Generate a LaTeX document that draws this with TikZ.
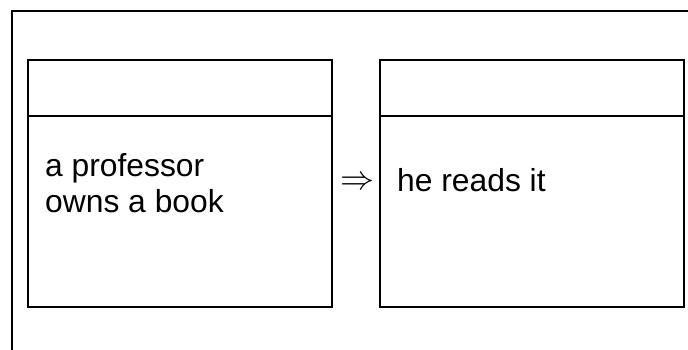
\documentclass[tikz,border=0pt]{standalone}
\usepackage{fontspec}
\setmainfont{Liberation Sans}
\begin{document}
\begin{tikzpicture}[x=1pt,y=-1pt,
  frameline/.style={line width=1.6pt, black},
  boxpart/.style={draw, line width=1.6pt, black},
  bodytext/.style={font=\fontsize{31.8}{36}\selectfont, align=left, inner sep=0pt, anchor=base west},
  implies/.style={scale=3.4, inner sep=0pt}
]
\useasboundingbox (0,0) rectangle (688,349);
\clip (0,0) rectangle (688,349);

% outer frame (top and left sides)
\coordinate (fbl) at (12,352);
\coordinate (ftl) at (12,11);
\coordinate (ftr) at (692,11);
\draw[frameline] (fbl) -- (ftl) -- (ftr);

% left box: header and body
\draw[boxpart] (28,60) rectangle (332,307);
\draw[boxpart] (28,116) -- (332,116);
\node[bodytext] (lefttext) at (45,212) {a professor\\owns a book};

% right box: header and body
\draw[boxpart] (380,60) rectangle (684,307);
\draw[boxpart] (380,116) -- (684,116);
\node[bodytext] (righttext) at (397,191) {he reads it};

% implication sign between the boxes
\node[implies] (arrow) at (357.5,183) {$\Rightarrow$};
\end{tikzpicture}
\end{document}
